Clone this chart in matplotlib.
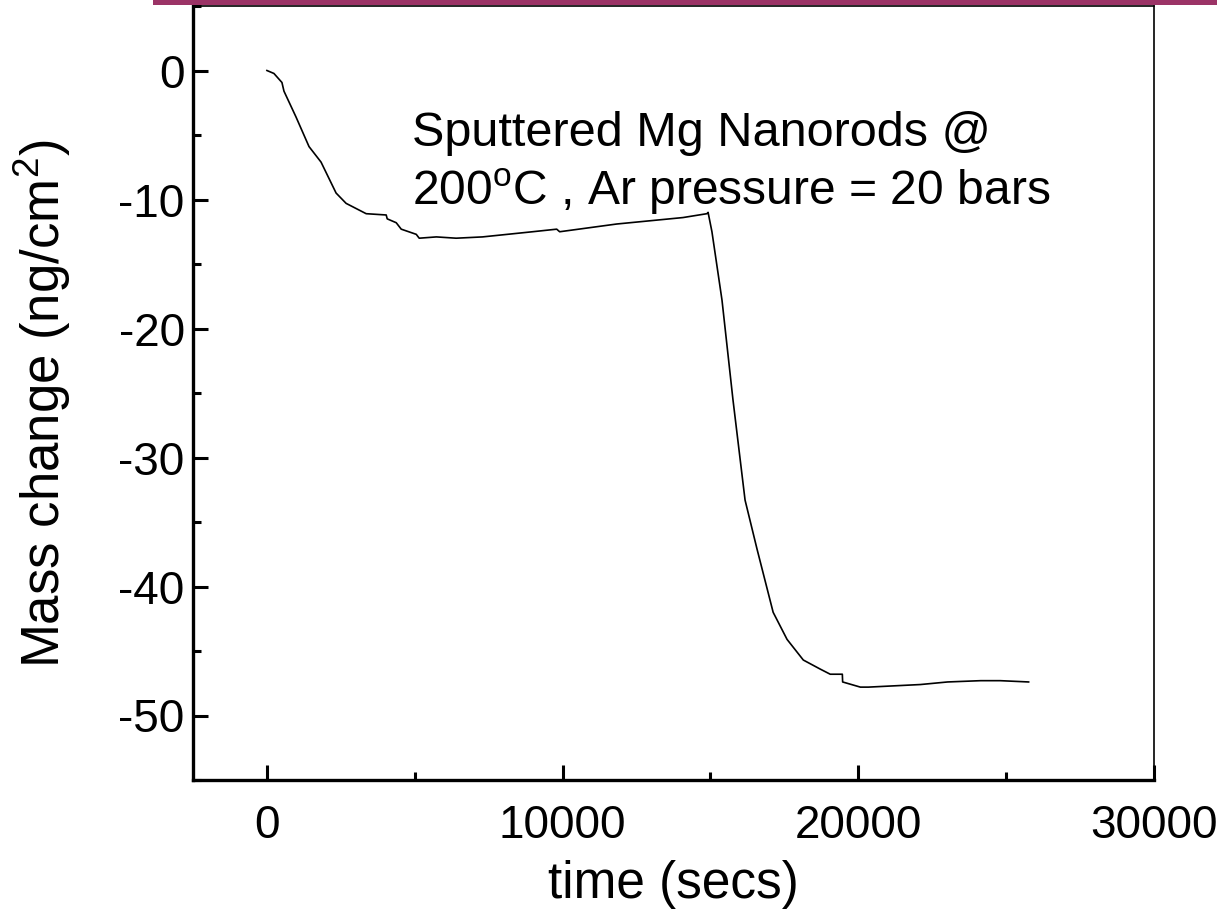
"""Cambio de masa de nanovarillas de Mg frente al tiempo (200 C, Ar 20 bar)."""
import matplotlib
matplotlib.use("Agg")
import matplotlib.pyplot as plt
from matplotlib.patches import Rectangle
from matplotlib.ticker import MultipleLocator

# curva
time_s = [0, 237, 508, 576, 983, 1424, 1830, 2339, 2678, 3356, 4034, 4068,
          4373, 4542, 5050, 5150, 5730, 6400, 7290, 8980, 9800, 9900, 11830,
          14070, 14880, 14920, 15050, 15390, 15760, 16170, 16575, 17120, 17590,
          18140, 18710, 19050, 19460, 19470, 20070, 20340, 22100, 23020, 24140,
          24800, 25760]
mass_ng = [0.0, -0.23, -0.93, -1.6, -3.6, -5.9, -7.1, -9.5, -10.3, -11.1,
           -11.2, -11.5, -11.8, -12.3, -12.7, -13.0, -12.9, -13.0, -12.9,
           -12.5, -12.3, -12.5, -11.9, -11.4, -11.1, -11.0, -12.5, -17.8,
           -25.5, -33.3, -37.1, -42.0, -44.1, -45.7, -46.4, -46.8, -46.8,
           -47.4, -47.8, -47.8, -47.6, -47.4, -47.3, -47.3, -47.4]

x_ticks = [0, 10000, 20000, 30000]
y_ticks = [0, -10, -20, -30, -40, -50]

plt.rcParams["font.family"] = ["Liberation Sans", "DejaVu Sans"]
plt.rcParams["mathtext.fontset"] = "custom"
plt.rcParams["mathtext.rm"] = "Liberation Sans"
plt.rcParams["mathtext.it"] = "Liberation Sans"
plt.rcParams["axes.unicode_minus"] = False

fig = plt.figure(figsize=(12.17, 9.19), dpi=100)
# franja morada de la diapositiva
fig.patches.append(Rectangle((153 / 1217, 1 - 5 / 919), 1, 5 / 919,
                             transform=fig.transFigure, color="#9B3366",
                             lw=0, zorder=0))
ax = fig.add_axes([193 / 1217, 139 / 919, 961 / 1217, 774 / 919])

ax.plot(time_s, mass_ng, color="black", lw=1.2)

ax.set_xlim(-2500, 30000)
ax.set_ylim(-55, 5)
ax.set_xticks(x_ticks)
ax.set_yticks(y_ticks)
ax.xaxis.set_minor_locator(MultipleLocator(5000))
ax.yaxis.set_minor_locator(MultipleLocator(5))
ax.tick_params(which="both", direction="in", top=False, right=False,
               width=2.2, labelsize=33)
ax.tick_params(which="major", length=11)
ax.tick_params(which="minor", length=6)
ax.tick_params(axis="x", pad=17)
ax.tick_params(axis="y", pad=6)
for side in ("left", "bottom"):
    ax.spines[side].set_linewidth(2.4)
for side in ("top", "right"):
    ax.spines[side].set_linewidth(1.2)

ax.set_xlabel("time (secs)", fontsize=37, labelpad=9)
ax.set_ylabel("Mass change (ng/cm$^2$)", fontsize=38)
ax.yaxis.set_label_coords(-0.125, 0.486)

ax.text(4900, -4.9, "Sputtered Mg Nanorods @", fontsize=35, va="center")
ax.text(4900, -9.4, "200$^{\\rm o}$C , Ar pressure = 20 bars", fontsize=34.6,
        va="center")

fig.savefig("out.png", dpi=100)
